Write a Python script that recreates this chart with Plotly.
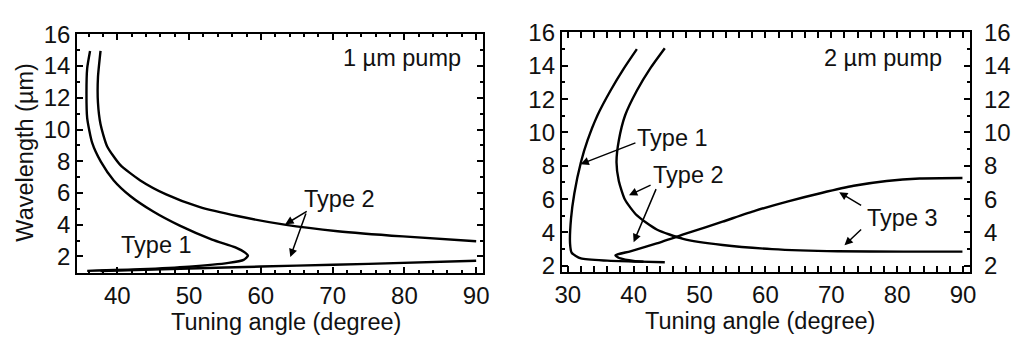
import plotly.graph_objects as go

# ---------------- data: 1 um pump (left panel) ----------------
l_type1_x = [36.2, 35.8, 35.7, 35.8, 36.5, 37.7, 39.5, 41.8, 45.0, 48.7, 53.2, 56.45, 57.8, 58.2,
             57.6, 55.5, 50.0, 43.2, 35.8]
l_type1_y = [14.95, 13.86, 12.29, 10.72, 9.15, 7.97, 6.79, 5.81, 4.83, 3.94, 3.06, 2.57, 2.24, 2.04,
             1.78, 1.59, 1.35, 1.19, 1.09]
l_type2u_x = [37.66, 37.3, 37.3, 37.66, 38.57, 40.4, 43.2, 46.8, 51.4, 56.9, 63.3, 70.7, 79.8, 90.0]
l_type2u_y = [14.95, 13.27, 11.7, 10.33, 8.95, 7.77, 6.79, 5.91, 5.12, 4.53, 4.0, 3.59, 3.26, 2.96]
l_type2l_x = [37.66, 45.0, 55.0, 65.0, 75.0, 90.0]
l_type2l_y = [1.08, 1.17, 1.30, 1.42, 1.53, 1.73]

# ---------------- data: 2 um pump (right panel) ----------------
r_type1_x = [40.49, 38.5, 36.5, 34.5, 33.0, 32.0, 31.0, 30.5, 30.35, 30.6, 32.0, 36.0, 41.0, 44.73]
r_type1_y = [15.0, 13.83, 12.52, 11.02, 9.52, 8.21, 6.34, 4.84, 3.34, 2.78, 2.44, 2.31, 2.25, 2.21]
r_b_x = [44.73, 42.5, 40.5, 38.7, 37.75, 37.4, 37.75, 38.7, 40.5, 43.5, 47.5, 53.5, 61.0, 70.95, 80.9, 89.9]
r_b_y = [15.05, 13.83, 12.52, 11.02, 9.52, 8.21, 7.09, 5.96, 5.02, 4.18, 3.62, 3.25, 3.0, 2.87, 2.85, 2.85]
r_c_x = [89.9, 83.4, 78.4, 73.4, 68.5, 63.45, 58.5, 53.5, 48.5, 43.5, 39.5, 37.24, 38.0, 40.0, 41.5]
r_c_y = [7.27, 7.24, 7.09, 6.8, 6.37, 5.87, 5.31, 4.65, 4.0, 3.34, 2.87, 2.63, 2.44, 2.29, 2.24]

y_ticks = [2, 4, 6, 8, 10, 12, 14, 16]
l_x_ticks = [40, 50, 60, 70, 80, 90]
r_x_ticks = [30, 40, 50, 60, 70, 80, 90]

FONT = "Liberation Sans, Arial, Helvetica, sans-serif"
INK = "#111111"
line = dict(color="black", width=2.4)

fig = go.Figure()
for xs, ys in [(l_type1_x, l_type1_y), (l_type2u_x, l_type2u_y), (l_type2l_x, l_type2l_y)]:
    fig.add_trace(go.Scatter(x=xs, y=ys, mode="lines", line=dict(line, shape="spline", smoothing=0.6),
                             xaxis="x", yaxis="y", showlegend=False, hoverinfo="skip"))
for xs, ys in [(r_type1_x, r_type1_y), (r_b_x, r_b_y), (r_c_x, r_c_y)]:
    fig.add_trace(go.Scatter(x=xs, y=ys, mode="lines", line=dict(line, shape="spline", smoothing=0.6),
                             xaxis="x2", yaxis="y2", showlegend=False, hoverinfo="skip"))

TICKF = dict(family=FONT, size=24, color=INK)
common = dict(showline=True, linecolor="black", linewidth=2, mirror="allticks",
              ticks="inside", ticklen=6, tickwidth=1.5, tickcolor="black",
              showgrid=False, zeroline=False, tickfont=TICKF)

fig.update_layout(
    width=1015, height=339,
    margin=dict(l=0, r=0, t=0, b=0),
    paper_bgcolor="white", plot_bgcolor="white",
    xaxis=dict(common, domain=[0.070, 0.4754], range=[34.4, 91.0], anchor="y",
               tickvals=l_x_ticks, minor=dict(ticks="inside", ticklen=3, dtick=2, tickcolor="black")),
    yaxis=dict(common, domain=[0.1858, 0.9381], range=[0.96, 16.04], anchor="x",
               tickvals=y_ticks, minor=dict(ticks="inside", ticklen=3, dtick=1, tickcolor="black")),
    xaxis2=dict(common, domain=[0.5537, 0.9611], range=[29.1, 91.05], anchor="y2",
                tickvals=r_x_ticks, minor=dict(ticks="inside", ticklen=3, dtick=2, tickcolor="black")),
    yaxis2=dict(common, domain=[0.1888, 0.9419], range=[1.63, 16.0], anchor="x2",
                tickvals=y_ticks, minor=dict(ticks="inside", ticklen=3, dtick=1, tickcolor="black")),
    yaxis3=dict(overlaying="y2", side="right", anchor="x2", range=[1.63, 16.0], tickvals=y_ticks,
                showline=False, showgrid=False, zeroline=False, ticks="", ticklabelstandoff=13,
                tickfont=TICKF),
)
# dummy trace to render the right-hand axis labels
fig.add_trace(go.Scatter(x=[None], y=[None], xaxis="x2", yaxis="y3", showlegend=False, hoverinfo="skip"))

ann = []
tf = dict(family=FONT, size=23.5, color=INK)
titf = dict(family=FONT, size=23.5, color=INK)
# axis titles
ann.append(dict(text="Tuning angle (degree)", xref="paper", yref="paper", x=282.5/1015, y=1-328/339,
                showarrow=False, font=titf, xanchor="center", yanchor="middle"))
ann.append(dict(text="Tuning angle (degree)", xref="paper", yref="paper", x=763/1015, y=1-327/339,
                showarrow=False, font=titf, xanchor="center", yanchor="middle"))
ann.append(dict(text="Wavelength (µm)", xref="paper", yref="paper", x=18/1015, y=1-147/339, textangle=-90,
                showarrow=False, font=titf, xanchor="center", yanchor="middle"))
# panel labels
ann.append(dict(text="1 µm pump", x=79.7, y=14.5, xref="x", yref="y", showarrow=False, font=tf))
ann.append(dict(text="2 µm pump", x=77.9, y=14.47, xref="x2", yref="y2", showarrow=False, font=tf))
ann.append(dict(text="Type 2", x=71.0, y=5.6, xref="x", yref="y", showarrow=False, font=tf))
ann.append(dict(text="Type 1", x=45.5, y=2.72, xref="x", yref="y", showarrow=False, font=tf))
ann.append(dict(text="Type 1", x=45.9, y=9.67, xref="x2", yref="y2", showarrow=False, font=tf))
ann.append(dict(text="Type 2", x=48.3, y=7.42, xref="x2", yref="y2", showarrow=False, font=tf))
ann.append(dict(text="Type 3", x=80.8, y=4.84, xref="x2", yref="y2", showarrow=False, font=tf))

arrows = [
    ("x", "y", 66.6, 4.9, 63.4, 4.02),
    ("x", "y", 66.35, 4.8, 64.1, 1.96),
    ("x2", "y2", 40.5, 9.41, 31.95, 8.1),
    ("x2", "y2", 42.8, 6.88, 39.3, 6.23),
    ("x2", "y2", 43.5, 6.69, 40.0, 3.42),
    ("x2", "y2", 74.75, 5.57, 71.2, 6.41),
    ("x2", "y2", 74.75, 4.26, 72.0, 3.23),
]
for xr, yr, tx, ty, hx, hy in arrows:
    ann.append(dict(text="", x=hx, y=hy, ax=tx, ay=ty, xref=xr, yref=yr, axref=xr, ayref=yr,
                    showarrow=True, arrowhead=2, arrowsize=1.1, arrowwidth=1.5, arrowcolor="black",
                    standoff=0, startstandoff=0))
fig.update_layout(annotations=ann)

fig.write_html("out.html")
